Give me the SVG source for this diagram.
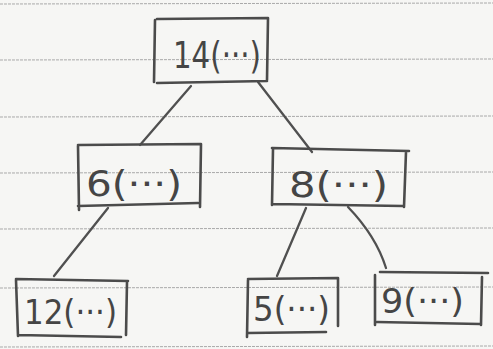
<svg xmlns="http://www.w3.org/2000/svg" width="493" height="349" viewBox="0 0 493 349">
<style>
.rule{stroke:#a9a9a9;stroke-width:1;stroke-dasharray:3 1;fill:none}
.box{fill:none;stroke:#4b4b4b;stroke-width:2.6;stroke-linecap:round;stroke-linejoin:round}
.edge{fill:none;stroke:#505050;stroke-width:2.3;stroke-linecap:round}
.lbl{font-family:"DejaVu Sans","Liberation Sans",sans-serif;font-weight:400;fill:#454545}
</style>
<rect width="493" height="349" fill="#f6f6f4"/>
<g id="paper">
<path class="rule" d="M0 4 L493 3"/>
<path class="rule" d="M0 60 L493 59"/>
<path class="rule" d="M0 117 L493 116"/>
<path class="rule" d="M0 173 L493 172"/>
<path class="rule" d="M0 229 L493 228"/>
<path class="rule" d="M0 288 L493 287"/>
<path class="rule" d="M0 347 L493 346"/>
</g>
<g id="connectors">
<path class="edge" d="M191 86 L140 145"/>
<path class="edge" d="M258 82 L312 152"/>
<path class="edge" d="M108 208 L54 276"/>
<path class="edge" d="M306 208 L277 276"/>
<path class="edge" d="M348 207 Q376 236 386 268"/>
</g>
<g id="n14">
<path class="box" d="M155 20 L154 82 M157 19 L268 18 L267 80 M157 83 L267 81"/>
<text class="lbl" x="173" y="68" font-size="38" textLength="88" lengthAdjust="spacingAndGlyphs">14(···)</text>
</g>
<g id="n6">
<path class="box" d="M78 145 L201 144 L200 207 M78 146 L79 210 M78 206 L198 203"/>
<text class="lbl" x="86" y="196" font-size="36" textLength="96" lengthAdjust="spacingAndGlyphs">6(···)</text>
</g>
<g id="n8">
<path class="box" d="M272 148 L409 151 M273 149 L272 205 M406 152 L404 207 M273 204 L403 206"/>
<text class="lbl" x="289" y="197" font-size="36" textLength="99" lengthAdjust="spacingAndGlyphs">8(···)</text>
</g>
<g id="n12">
<path class="box" d="M16 279 L128 281 M16 280 L18 336 M127 282 L126 335 M18 335 L121 337"/>
<text class="lbl" x="24" y="324" font-size="34" textLength="93" lengthAdjust="spacingAndGlyphs">12(···)</text>
</g>
<g id="n5">
<path class="box" d="M248 279 L338 278 L338 326 M248 280 L247 337 M248 333 L326 332"/>
<text class="lbl" x="253" y="321" font-size="34" textLength="77" lengthAdjust="spacingAndGlyphs">5(···)</text>
</g>
<g id="n9">
<path class="box" d="M380 272 L488 273 M375 275 L375 325 M482 277 L481 325 M377 322 L480 324"/>
<text class="lbl" x="381" y="313" font-size="34" textLength="83" lengthAdjust="spacingAndGlyphs">9(···)</text>
</g>
</svg>
